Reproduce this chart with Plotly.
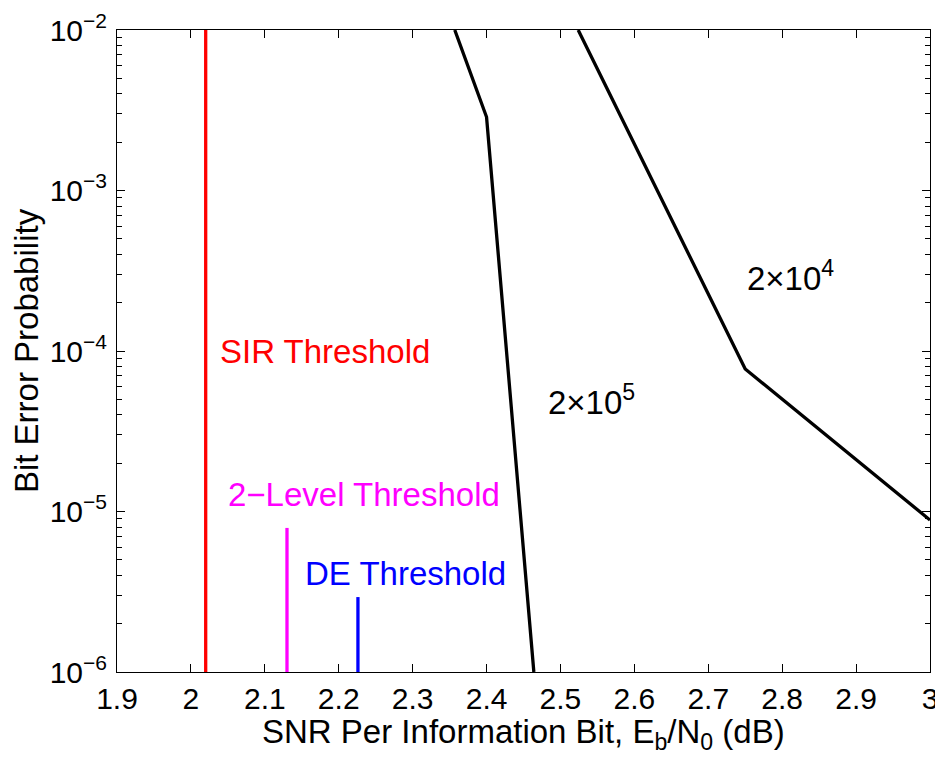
import math
import plotly.graph_objects as go

# Data
thr_names = ["SIR Threshold", "2\u2212Level Threshold", "DE Threshold"]
thr_x = [2.02, 2.13, 2.226]
thr_ytop = [1e-2, 7.9e-6, 2.93e-6]
thr_colors = ["#FF0000", "#FF00FF", "#0000FF"]
thr_label_x = [2.036, 2.047, 2.152]
thr_label_y = [1.0e-4, 1.28e-5, 4.1e-6]

c5_x = [2.357, 2.4, 2.464]
c5_y = [1e-2, 2.87e-3, 1e-6]
c4_x = [2.524, 2.75, 3.0]
c4_y = [1e-2, 7.73e-5, 8.85e-6]
curve_labels = ["2\u00d710<sup>5</sup>", "2\u00d710<sup>4</sup>"]
curve_label_x = [2.48, 2.75]
curve_label_y = [4.95e-5, 2.93e-4]

x_ticks = [1.9, 2.0, 2.1, 2.2, 2.3, 2.4, 2.5, 2.6, 2.7, 2.8, 2.9, 3.0]
x_ticktext = ["1.9", "2", "2.1", "2.2", "2.3", "2.4", "2.5", "2.6", "2.7", "2.8", "2.9", "3"]
y_ticks = [1e-6, 1e-5, 1e-4, 1e-3, 1e-2]
y_ticktext = ["10<sup>\u22126</sup>", "10<sup>\u22125</sup>", "10<sup>\u22124</sup>",
              "10<sup>\u22123</sup>", "10<sup>\u22122</sup>"]
y_minor = [m * 10.0 ** e for e in range(-6, -2) for m in range(2, 10)]

x_title = "SNR Per Information Bit, E<sub>b</sub>/N<sub>0</sub> (dB)"
y_title = "Bit Error Probability"

fig = go.Figure()
for xv, yt, col in zip(thr_x, thr_ytop, thr_colors):
    fig.add_trace(go.Scatter(x=[xv, xv], y=[1e-6, yt], mode="lines",
                             line=dict(color=col, width=3.3), showlegend=False,
                             hoverinfo="skip"))
fig.add_trace(go.Scatter(x=c5_x, y=c5_y, mode="lines",
                         line=dict(color="black", width=3.3), showlegend=False))
fig.add_trace(go.Scatter(x=c4_x, y=c4_y, mode="lines",
                         line=dict(color="black", width=3.3), showlegend=False))

font_fam = "Liberation Sans, Arial, Helvetica, sans-serif"
for name, xv, yv, col in zip(thr_names, thr_label_x, thr_label_y, thr_colors):
    fig.add_annotation(x=xv, y=math.log10(yv), text=name, showarrow=False,
                       xanchor="left", yanchor="middle",
                       font=dict(color=col, size=33, family=font_fam))
for name, xv, yv in zip(curve_labels, curve_label_x, curve_label_y):
    fig.add_annotation(x=xv, y=math.log10(yv), text=name, showarrow=False,
                       xanchor="left", yanchor="middle",
                       font=dict(color="black", size=33, family=font_fam))

# x-axis title as a paper annotation for precise placement
fig.add_annotation(x=0.5, y=-0.06, xref="paper", yref="paper", text=x_title,
                   showarrow=False, xanchor="center", yanchor="top",
                   font=dict(color="black", size=33, family=font_fam))

fig.update_layout(
    width=935, height=753,
    margin=dict(l=109, r=13, t=22, b=89, autoexpand=False),
    plot_bgcolor="white", paper_bgcolor="white",
    font=dict(family=font_fam, color="black", size=30),
    xaxis=dict(range=[1.9, 3.0], tickvals=x_ticks, ticktext=x_ticktext,
               ticks="inside", ticklen=8, tickwidth=1, tickcolor="black",
               showline=True, linecolor="black", linewidth=1, mirror="allticks",
               showgrid=False, zeroline=False, tickfont=dict(size=30),
               automargin=False),
    yaxis=dict(type="log", range=[-6, -2], tickvals=y_ticks, ticktext=y_ticktext,
               ticks="inside", ticklen=8, tickwidth=1, tickcolor="black",
               showline=True, linecolor="black", linewidth=1, mirror="allticks",
               showgrid=False, zeroline=False, tickfont=dict(size=30),
               automargin=False, ticklabelstandoff=3,
               minor=dict(tickvals=y_minor, ticks="inside", ticklen=5,
                          tickcolor="black", tickwidth=1, showgrid=False),
               title=dict(text=y_title, font=dict(size=33), standoff=3)),
)

fig.write_html("out.html")
